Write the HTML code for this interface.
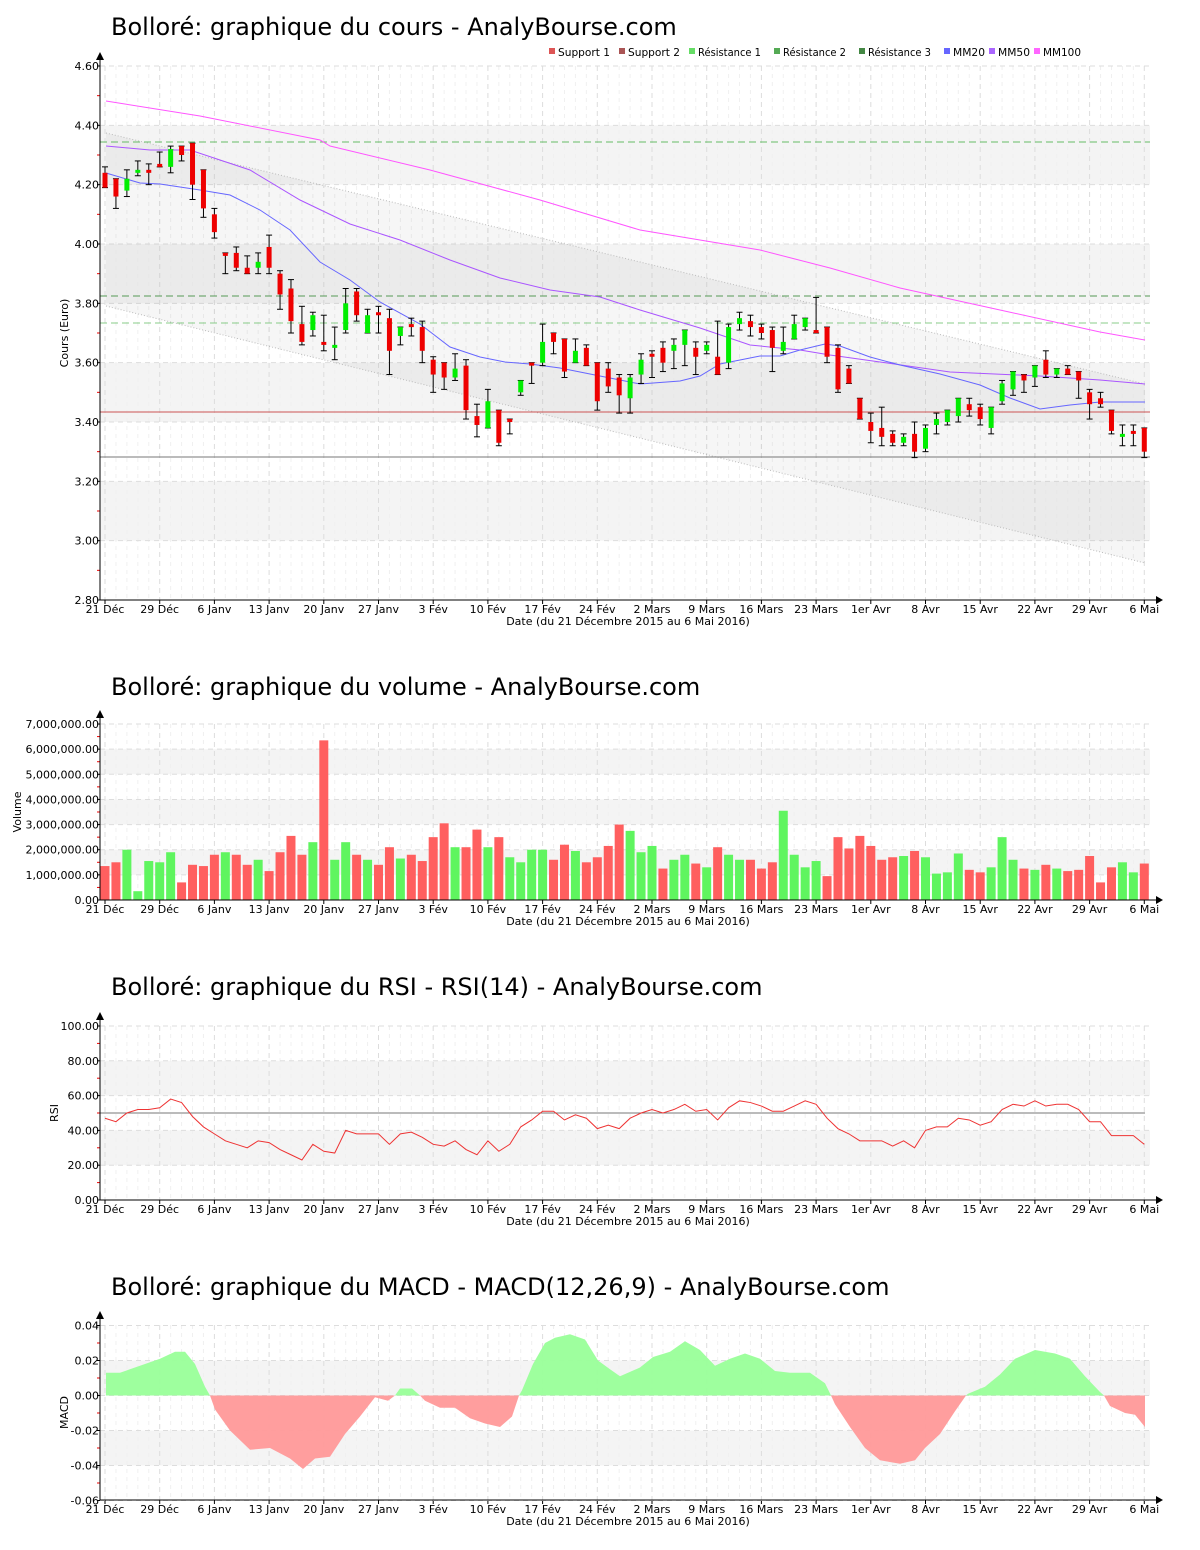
<!DOCTYPE html>
<html><head><meta charset="utf-8">
<style>
body{margin:0;background:#fff;}
svg{display:block;font-family:"DejaVu Sans","Liberation Sans",sans-serif;}
.t{font-size:24px;fill:#000;}
.s{font-size:11px;fill:#000;}
.lg{font-size:10.5px;fill:#000;}
</style></head>
<body>
<svg id="c" width="1200" height="1550" xmlns="http://www.w3.org/2000/svg"></svg>
<script>
const S=document.getElementById('c');let h='';
const X0=105,DX=10.94,L=100,R=1150;
const xi=i=>X0+i*DX;
const dates=['21 Déc','29 Déc','6 Janv','13 Janv','20 Janv','27 Janv','3 Fév','10 Fév','17 Fév','24 Fév','2 Mars','9 Mars','16 Mars','23 Mars','1er Avr','8 Avr','15 Avr','22 Avr','29 Avr','6 Mai'];
function frame(top,bot,ticks,yf,fmt,label,lx,bands,title,ty){
 h+=`<text class="t" x="111" y="${ty}">${title}</text>`;
 bands.forEach(b=>{const a=yf(b[1]),c=yf(b[0]);h+=`<rect x="${L}" y="${a}" width="${R-L}" height="${c-a}" fill="#f4f4f4"/>`;});
 for(let i=0;i<96;i++){if(i%5)h+=`<line x1="${xi(i)}" y1="${top}" x2="${xi(i)}" y2="${bot}" stroke="#f0f0f0" stroke-dasharray="4,4"/>`;}
 for(let k=0;k<20;k++){const x=X0+k*54.7;h+=`<line x1="${x}" y1="${top}" x2="${x}" y2="${bot}" stroke="#ddd" stroke-dasharray="5,4"/>`;
  h+=`<line x1="${x}" y1="${bot}" x2="${x}" y2="${bot+4}" stroke="#000"/><text class="s" x="${x}" y="${bot+13}" text-anchor="middle">${dates[k]}</text>`;}
 ticks.forEach((v,j)=>{const y=yf(v);h+=`<line x1="${L}" y1="${y}" x2="${R}" y2="${y}" stroke="#ddd" stroke-dasharray="5,4"/><line x1="${L-3}" y1="${y}" x2="${L}" y2="${y}" stroke="#000"/><text class="s" x="${L-1}" y="${y+4}" text-anchor="end">${fmt(v)}</text>`;
  if(j<ticks.length-1){const y2=(y+yf(ticks[j+1]))/2;h+=`<line x1="${L-3}" y1="${y2}" x2="${L}" y2="${y2}" stroke="#e00"/>`;}});
 h+=`<text class="s" transform="translate(${lx},${(top+bot)/2}) rotate(-90)" text-anchor="middle">${label}</text>`;
 h+=`<text class="s" x="628" y="${bot+25}" text-anchor="middle">Date (du 21 Décembre 2015 au 6 Mai 2016)</text>`;
 return ()=>{h+=`<line x1="${L}" y1="${bot}" x2="${L}" y2="${top-8}" stroke="#000"/><polygon points="${L-4},${top-6} ${L+4},${top-6} ${L},${top-14}" fill="#000"/><line x1="${L}" y1="${bot}" x2="${R+8}" y2="${bot}" stroke="#000"/><polygon points="${R+6},${bot-4} ${R+6},${bot+4} ${R+13},${bot}" fill="#000"/>`;};
}
const yp=p=>66+(4.6-p)*296.67;
let ax=frame(66,600,[4.6,4.4,4.2,4.0,3.8,3.6,3.4,3.2,3.0,2.8],yp,v=>v.toFixed(2),'Cours (Euro)',68,[[4.2,4.4],[3.8,4.0],[3.4,3.6],[3.0,3.2]],'Bolloré: graphique du cours - AnalyBourse.com',35);
h+=`<polygon points="106,133 1145,384 1145,563 106,306" fill="#000" fill-opacity="0.035"/>`;
h+=`<line x1="106" y1="133" x2="1145" y2="384" stroke="#bbb" stroke-dasharray="1,2"/><line x1="106" y1="306" x2="1145" y2="563" stroke="#bbb" stroke-dasharray="1,2"/>`;
h+=`<line x1="${L}" y1="142" x2="${R}" y2="142" stroke="#66bb66" stroke-dasharray="7,4"/>`;
h+=`<line x1="${L}" y1="296" x2="${R}" y2="296" stroke="#559955" stroke-dasharray="7,4"/>`;
h+=`<line x1="${L}" y1="323" x2="${R}" y2="323" stroke="#88cc88" stroke-dasharray="7,4"/>`;
h+=`<line x1="${L}" y1="412" x2="${R}" y2="412" stroke="#cc5555"/>`;
h+=`<line x1="${L}" y1="457" x2="${R}" y2="457" stroke="#777"/>`;
const pl=(pts,c)=>{h+=`<polyline fill="none" stroke="${c}" stroke-width="1" points="${pts}"/>`;};
pl('106,101 200,116 320,140 330,146 430,170 540,200 640,230 760,250 830,268 900,288 1000,310 1100,332 1145,340','#ff55ff');
pl('106,146 150,150 190,150 250,170 300,200 350,224 400,240 450,260 500,278 550,290 600,297 640,310 700,328 750,345 800,350 830,355 880,362 950,372 1040,376 1100,380 1145,384','#aa55ff');
pl('106,173 140,183 160,184 200,190 230,195 260,210 290,230 320,262 350,280 380,302 420,324 450,347 480,357 505,362 530,364 560,368 600,376 640,384 680,381 700,376 720,364 760,356 780,356 800,350 825,344 840,346 870,357 900,365 940,374 980,385 1010,398 1040,409 1070,405 1100,402 1145,402','#6666ff');
const C=[[4.24,4.19,4.26,4.19],[4.22,4.16,4.22,4.12],[4.18,4.22,4.25,4.16],[4.24,4.25,4.28,4.23],[4.25,4.24,4.27,4.20],[4.27,4.26,4.31,4.26],[4.26,4.32,4.33,4.24],[4.33,4.30,4.33,4.28],[4.34,4.20,4.34,4.15],[4.25,4.12,4.25,4.09],[4.10,4.04,4.12,4.02],[3.97,3.96,3.97,3.90],[3.97,3.92,3.99,3.91],[3.92,3.90,3.96,3.90],[3.92,3.94,3.97,3.90],[3.99,3.92,4.03,3.90],[3.90,3.83,3.91,3.78],[3.85,3.74,3.88,3.70],[3.73,3.67,3.79,3.66],[3.71,3.76,3.77,3.69],[3.67,3.66,3.76,3.64],[3.65,3.66,3.72,3.61],[3.71,3.80,3.85,3.70],[3.84,3.76,3.85,3.74],[3.70,3.76,3.78,3.70],[3.77,3.76,3.79,3.70],[3.75,3.64,3.78,3.56],[3.69,3.72,3.72,3.66],[3.73,3.72,3.75,3.69],[3.72,3.64,3.74,3.60],[3.61,3.56,3.62,3.50],[3.60,3.55,3.60,3.51],[3.55,3.58,3.63,3.54],[3.59,3.44,3.61,3.41],[3.42,3.39,3.46,3.35],[3.38,3.47,3.51,3.38],[3.44,3.33,3.44,3.32],[3.41,3.40,3.41,3.36],[3.50,3.54,3.54,3.49],[3.60,3.59,3.60,3.53],[3.60,3.67,3.73,3.59],[3.70,3.67,3.70,3.63],[3.68,3.57,3.68,3.55],[3.60,3.64,3.68,3.60],[3.65,3.59,3.66,3.59],[3.60,3.47,3.60,3.44],[3.58,3.52,3.60,3.50],[3.55,3.49,3.56,3.43],[3.48,3.55,3.56,3.43],[3.56,3.61,3.63,3.53],[3.63,3.62,3.64,3.55],[3.65,3.60,3.67,3.57],[3.64,3.66,3.68,3.58],[3.66,3.71,3.71,3.59],[3.65,3.62,3.67,3.56],[3.64,3.66,3.67,3.63],[3.62,3.56,3.74,3.56],[3.60,3.72,3.73,3.58],[3.73,3.75,3.77,3.71],[3.74,3.72,3.76,3.69],[3.72,3.70,3.73,3.68],[3.71,3.65,3.72,3.57],[3.64,3.67,3.72,3.63],[3.68,3.73,3.76,3.68],[3.72,3.75,3.75,3.71],[3.71,3.70,3.82,3.70],[3.72,3.62,3.72,3.60],[3.65,3.51,3.66,3.50],[3.58,3.53,3.59,3.53],[3.48,3.41,3.48,3.41],[3.40,3.37,3.43,3.33],[3.38,3.35,3.45,3.32],[3.36,3.33,3.37,3.32],[3.33,3.35,3.36,3.32],[3.36,3.30,3.40,3.28],[3.31,3.38,3.39,3.30],[3.39,3.41,3.43,3.36],[3.40,3.44,3.43,3.39],[3.42,3.48,3.48,3.40],[3.46,3.44,3.48,3.42],[3.45,3.41,3.46,3.39],[3.38,3.45,3.45,3.36],[3.47,3.53,3.54,3.46],[3.51,3.57,3.57,3.49],[3.56,3.54,3.56,3.50],[3.55,3.59,3.59,3.52],[3.61,3.56,3.64,3.55],[3.56,3.58,3.58,3.55],[3.58,3.56,3.59,3.56],[3.57,3.54,3.57,3.48],[3.50,3.46,3.51,3.41],[3.48,3.46,3.50,3.45],[3.44,3.37,3.44,3.36],[3.35,3.36,3.39,3.32],[3.37,3.36,3.39,3.32],[3.38,3.30,3.38,3.28]];
C.forEach((c,i)=>{const x=xi(i);const [o,cl,hi,lo]=c;const H=Math.max(hi,o,cl),Lo=Math.min(lo,o,cl);
 h+=`<line x1="${x}" y1="${yp(H)}" x2="${x}" y2="${yp(Lo)}" stroke="#000"/><line x1="${x-3}" y1="${yp(H)}" x2="${x+3}" y2="${yp(H)}" stroke="#000"/><line x1="${x-3}" y1="${yp(Lo)}" x2="${x+3}" y2="${yp(Lo)}" stroke="#000"/>`;
 const t=yp(Math.max(o,cl)),b=Math.max(yp(Math.min(o,cl)),t+3);h+=`<rect x="${x-2.5}" y="${t}" width="5" height="${b-t}" fill="${cl>=o?'#00ee00':'#ee0000'}"/>`;});
ax();
const lg=[['Support 1','#dd5555',549],['Support 2','#aa5555',619],['Résistance 1','#66dd66',689],['Résistance 2','#55aa55',774],['Résistance 3','#448844',859],['MM20','#6666ff',944],['MM50','#aa66ff',989],['MM100','#ff66ff',1034]];
lg.forEach(l=>{h+=`<rect x="${l[2]}" y="48" width="6" height="6" fill="${l[1]}"/><text class="lg" x="${l[2]+9}" y="56" textLength="${l[0]==='MM100'?38:(l[0].length>9?63:l[0].length>4?52:32)}" lengthAdjust="spacingAndGlyphs">${l[0]}</text>`;});
const yv=v=>900-v*25.14;
ax=frame(724,900,[7,6,5,4,3,2,1,0],yv,v=>v?v+',000,000.00':'0.00','Volume',21,[[1,2],[3,4],[5,6]],'Bolloré: graphique du volume - AnalyBourse.com',695);
const V=[[1.35,0],[1.5,0],[2.0,1],[0.35,1],[1.55,1],[1.5,1],[1.9,1],[0.7,0],[1.4,0],[1.35,0],[1.8,0],[1.9,1],[1.8,0],[1.4,0],[1.6,1],[1.15,0],[1.9,0],[2.55,0],[1.8,0],[2.3,1],[6.35,0],[1.6,1],[2.3,1],[1.8,0],[1.6,1],[1.4,0],[2.1,0],[1.65,1],[1.8,0],[1.55,0],[2.5,0],[3.05,0],[2.1,1],[2.1,0],[2.8,0],[2.1,1],[2.5,0],
[1.7,1],[1.5,1],[2.0,1],[2.0,1],[1.6,0],[2.2,0],[1.95,1],[1.5,0],[1.7,0],[2.15,0],[3.0,0],[2.75,1],[1.9,1],[2.15,1],[1.25,0],[1.6,1],[1.8,1],[1.45,0],[1.3,1],[2.1,0],[1.8,1],[1.6,1],[1.6,0],[1.25,0],[1.5,0],[3.55,1],[1.8,1],[1.3,1],[1.55,1],[0.95,0],[2.5,0],[2.05,0],[2.55,0],[2.15,0],[1.6,0],[1.7,0],[1.75,1],[1.95,0],[1.7,1],[1.05,1],[1.1,1],[1.85,1],[1.2,0],[1.1,0],[1.3,1],[2.5,1],[1.6,1],[1.25,0],[1.2,1],[1.4,0],[1.25,1],[1.15,0],[1.2,0],[1.75,0],[0.7,0],[1.3,0],[1.5,1],[1.1,1],[1.45,0]];
V.forEach((v,i)=>{const x=xi(i);h+=`<rect x="${x-4.5}" y="${yv(v[0])}" width="9" height="${v[0]*25.14}" fill="${v[1]?'#5ff55f':'#ff5f5f'}"/>`;});
ax();
const yr=v=>1200-v*1.74;
ax=frame(1026,1200,[100,80,60,40,20,0],yr,v=>v.toFixed(2),'RSI',58,[[20,40],[60,80]],'Bolloré: graphique du RSI - RSI(14) - AnalyBourse.com',995);
h+=`<line x1="${L}" y1="${yr(50)}" x2="1145" y2="${yr(50)}" stroke="#777"/>`;
const RS=[47,45,50,52,52,53,58,56,48,42,38,34,32,30,34,33,29,26,23,32,28,27,40,38,38,38,32,38,39,36,32,31,34,29,26,34,28,32,42,46,51,51,46,49,47,41,43,41,47,50,52,50,52,55,51,52,46,53,57,56,54,51,51,54,57,55,47,41,38,34,34,34,31,34,30,40,42,42,47,46,43,45,52,55,54,57,54,55,55,52,45,45,37,37,37,32];
pl(RS.map((v,i)=>xi(i)+','+yr(v)).join(' '),'#ee3333');
ax();
const ym=v=>1395.5-v*1750;
ax=frame(1325,1500,[0.04,0.02,0,-0.02,-0.04,-0.06],ym,v=>v.toFixed(2),'MACD',68,[[0,0.02],[-0.04,-0.02]],'Bolloré: graphique du MACD - MACD(12,26,9) - AnalyBourse.com',1295);
const M=[[106,.013],[120,.013],[140,.017],[160,.021],[175,.025],[185,.025],[195,.018],[205,.005],[210,0],[215,-.008],[230,-.02],[250,-.031],[270,-.030],[290,-.036],[303,-.042],[315,-.036],[330,-.035],[345,-.022],[360,-.012],[375,-.001],[388,-.003],[395,0],[400,.004],[412,.004],[420,0],[425,-.003],[440,-.007],[455,-.007],[470,-.013],[485,-.016],[500,-.018],[512,-.012],[519,0],[522,.003],[533,.018],[545,.03],[555,.033],[570,.035],[585,.032],[598,.02],[610,.015],[620,.011],[640,.016],[653,.022],[670,.025],[685,.031],[700,.026],[715,.017],[730,.021],[745,.024],[760,.021],[775,.014],[790,.013],[810,.013],[825,.007],[831,0],[835,-.005],[850,-.018],[865,-.03],[880,-.037],[900,-.039],[915,-.037],[925,-.03],[940,-.022],[955,-.009],[966,0],[968,.001],[985,.005],[1000,.012],[1015,.021],[1035,.026],[1055,.024],[1070,.021],[1085,.011],[1100,.002],[1104,0],[1110,-.006],[1125,-.01],[1135,-.011],[1145,-.018]];
let pos='',neg='';M.forEach(p=>{pos+=` ${p[0]},${ym(Math.max(p[1],0))}`;neg+=` ${p[0]},${ym(Math.min(p[1],0))}`;});
h+=`<polygon points="106,${ym(0)}${pos} 1145,${ym(0)}" fill="#99ff99" fill-opacity="0.95"/>`;
h+=`<polygon points="106,${ym(0)}${neg} 1145,${ym(0)}" fill="#ff9999" fill-opacity="0.95"/>`;
ax();
S.innerHTML=h;
</script>
</body></html>
